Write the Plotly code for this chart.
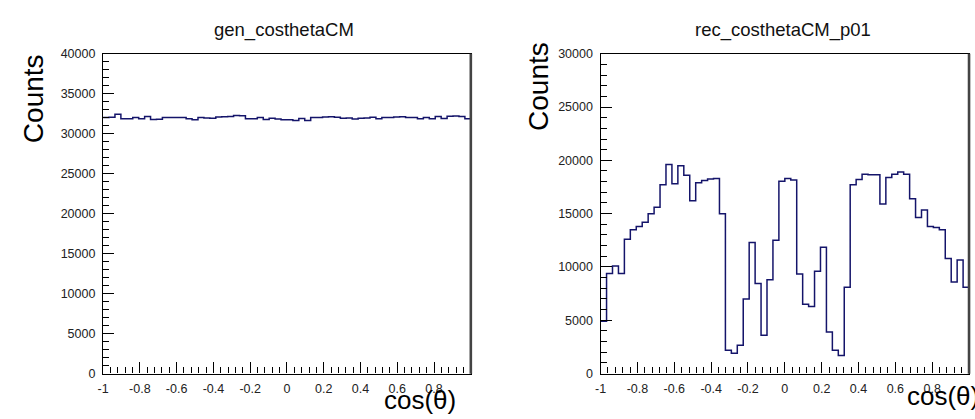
import numpy as np
import plotly.graph_objects as go

# ---- data (62 bins over cos(theta) in [-1, 1]) ----
x_min, x_max, n_bins = -1.0, 1.0, 62

gen_counts = [
    32020, 32050, 32420, 31860, 31870, 32010, 31860, 32140, 31780, 31790,
    32030, 32030, 32020, 32030, 31860, 31740, 32020, 31950, 31940, 32100,
    32110, 32140, 32260, 32250, 31860, 31870, 32020, 31780, 31940, 31820,
    31740, 31750, 31660, 31900, 31660, 32020, 32030, 32100, 32110, 32060,
    31940, 31950, 31820, 31940, 31950, 32060, 31860, 32020, 32030, 32100,
    32110, 32020, 32030, 31860, 32020, 31860, 32140, 31900, 32180, 32200,
    32150, 31860,
]

rec_counts = [
    4900, 9400, 10100, 9400, 12600, 13500, 13800, 14200, 15000, 15600,
    17700, 19600, 17800, 19500, 18600, 16200, 17900, 18100, 18250, 18300,
    15000, 2200, 1900, 2650, 7000, 12300, 8450, 3600, 8800, 12500,
    18050, 18300, 18150, 9350, 6500, 6300, 9600, 11850, 3900, 2200,
    1700, 8100, 17700, 18200, 18700, 18650, 18650, 15900, 18400, 18700,
    18900, 18700, 16400, 14650, 15350, 13800, 13700, 13500, 10800, 8600,
    10650, 8100,
]

x_tick_vals = [-1, -0.8, -0.6, -0.4, -0.2, 0, 0.2, 0.4, 0.6, 0.8]
x_tick_text = ["-1", "-0.8", "-0.6", "-0.4", "-0.2", "0", "0.2", "0.4", "0.6", "0.8"]
gen_y_ticks = [0, 5000, 10000, 15000, 20000, 25000, 30000, 35000, 40000]
rec_y_ticks = [0, 5000, 10000, 15000, 20000, 25000, 30000]

titles = ["gen_costhetaCM", "rec_costhetaCM_p01"]
x_title = "cos(θ)"
y_title = "Counts"

# ---- build ----
W, H = 975, 419
edges = np.linspace(x_min, x_max, n_bins + 1)

def step_xy(vals):
    xs = list(edges)
    ys = list(vals) + [vals[-1]]
    return xs, ys

line_col = "#14146a"
font_fam = "Liberation Sans, Arial, Helvetica, sans-serif"

fig = go.Figure()
for i, vals in enumerate([gen_counts, rec_counts]):
    xs, ys = step_xy(vals)
    fig.add_trace(go.Scatter(
        x=xs, y=ys, mode="lines", line=dict(shape="hv", color=line_col, width=1.5),
        xaxis="x" if i == 0 else "x2", yaxis="y" if i == 0 else "y2",
        showlegend=False, hoverinfo="skip",
    ))

def px_x(p):
    return p / W

def px_y(p):
    return 1 - p / H

ydom = [px_y(379.3), px_y(48.3)]
tickfont = dict(family=font_fam, size=12.5, color="#222")

def xaxis_cfg(dom, anchor):
    return dict(
        domain=dom, range=[x_min, x_max], anchor=anchor,
        tickmode="array", tickvals=x_tick_vals, ticktext=x_tick_text,
        ticks="inside", ticklen=11, tickwidth=1, tickcolor="black",
        minor=dict(tickmode="linear", tick0=-1, dtick=0.04, ticks="inside",
                   ticklen=6, tickwidth=1, tickcolor="black"),
        showline=True, linecolor="black", linewidth=1.4, mirror=True,
        showgrid=False, zeroline=False, tickfont=tickfont, ticklabelstandoff=3,
    )

def yaxis_cfg(ymax, ticks, anchor):
    return dict(
        domain=ydom, range=[0, ymax], anchor=anchor,
        tickmode="array", tickvals=ticks, ticktext=[str(t) for t in ticks],
        ticks="inside", ticklen=11, tickwidth=1, tickcolor="black",
        minor=dict(tickmode="linear", tick0=0, dtick=1000, ticks="inside",
                   ticklen=6, tickwidth=1, tickcolor="black"),
        showline=True, linecolor="black", linewidth=1.4, mirror=True,
        showgrid=False, zeroline=False, tickfont=tickfont, ticklabelstandoff=4,
    )

fig.update_layout(
    width=W, height=H,
    margin=dict(l=0, r=0, t=0, b=0),
    paper_bgcolor="white", plot_bgcolor="white",
    xaxis=xaxis_cfg([px_x(97.7), px_x(467.7)], "y"),
    yaxis=yaxis_cfg(40000, gen_y_ticks, "x"),
    xaxis2=xaxis_cfg([px_x(598.3), px_x(969)], "y2"),
    yaxis2=yaxis_cfg(30000, rec_y_ticks, "x2"),
)

# thicker right frame edge, as in the ROOT canvas
shapes = []
for xr, yr in [("x domain", "y domain"), ("x2 domain", "y2 domain")]:
    shapes.append(dict(type="line", xref=xr, yref=yr, x0=1, x1=1, y0=0, y1=1,
                       line=dict(color="#444", width=2.6)))
fig.update_layout(shapes=shapes)

ann = []
ann.append(dict(text=titles[0], x=px_x(280), y=px_y(24), xref="paper", yref="paper",
                xanchor="center", yanchor="middle", showarrow=False,
                font=dict(family=font_fam, size=18.5, color="#111")))
ann.append(dict(text=titles[1], x=px_x(782), y=px_y(24), xref="paper", yref="paper",
                xanchor="center", yanchor="middle", showarrow=False,
                font=dict(family=font_fam, size=18.5, color="#111")))
ann.append(dict(text=y_title, x=px_x(27.5), y=px_y(95), xref="paper", yref="paper",
                xanchor="center", yanchor="middle", textangle=-90, showarrow=False,
                font=dict(family=font_fam, size=28, color="black")))
ann.append(dict(text=y_title, x=px_x(536), y=px_y(82), xref="paper", yref="paper",
                xanchor="center", yanchor="middle", textangle=-90, showarrow=False,
                font=dict(family=font_fam, size=28, color="black")))
ann.append(dict(text=x_title, x=px_x(378), y=px_y(406.7), xref="paper", yref="paper",
                xanchor="left", yanchor="middle", showarrow=False,
                font=dict(family=font_fam, size=26, color="black")))
ann.append(dict(text=x_title, x=px_x(905), y=px_y(402.5), xref="paper", yref="paper",
                xanchor="left", yanchor="middle", showarrow=False,
                font=dict(family=font_fam, size=26, color="black")))
fig.update_layout(annotations=ann)

fig.write_html("out.html")
